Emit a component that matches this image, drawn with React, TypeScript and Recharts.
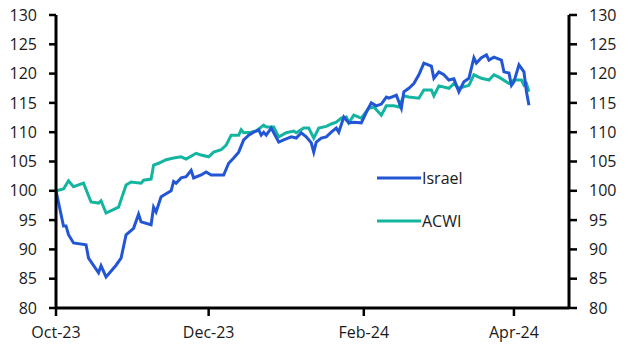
import { LineChart, Line, XAxis, YAxis } from "recharts";

// x values are days since 1 Oct 2023
const tickDays = [0, 61, 123, 183];
const tickLabels = ["Oct-23", "Dec-23", "Feb-24", "Apr-24"];
const yTicks = [80, 85, 90, 95, 100, 105, 110, 115, 120, 125, 130];

const israelDays = [
  0, 3, 4, 5, 7, 12, 13, 17, 18, 20, 24, 26, 28, 31, 33, 34, 38, 39, 40, 42,
  46, 47, 48, 50, 52, 54, 55, 58, 60, 62, 67, 69, 71, 73, 75, 77, 79, 81, 82, 83,
  84, 86, 89, 91, 94, 96, 98, 100, 102, 103, 104, 106, 108, 110, 112, 113, 115, 117, 119, 122,
  124, 126, 128, 130, 132, 133, 136, 138, 139, 141, 143, 145, 147, 150, 151, 153, 155, 157, 159, 161,
  163, 165, 167, 168, 170, 172, 173, 175, 178, 179, 181, 182, 183, 185, 187, 188, 189,
];
const israelValues = [
  100, 94, 94, 92.5, 91.1, 90.8, 88.5, 86, 87.2, 85.3, 87.3, 88.5, 92.5, 93.6, 96, 94.7, 94.2, 97.2, 96.4, 99,
  100, 101.6, 101.3, 102.2, 102.4, 103.5, 102.2, 102.7, 103.2, 102.7, 102.7, 104.7, 105.6, 106.6, 108.7, 109.5, 110, 110.4, 109.5, 110,
  109.5, 110.7, 108.3, 108.7, 109.2, 109, 109.9, 109.2, 108.2, 106.6, 108.3, 109, 109.2, 110, 110.7, 110, 112.6, 111.6, 111.7, 111.6,
  113.4, 115, 114.5, 114.8, 116, 115.8, 116.3, 114.1, 116.9, 117.5, 118.3, 119.8, 121.8, 121.3, 119.2, 120.3, 119.8, 118.9, 119.1, 116.9,
  118.6, 119.2, 122.7, 121.8, 122.7, 123.2, 122.3, 122.8, 122.3, 120.3, 120.1, 118, 118.6, 121.5, 120.3, 116.9, 114.6,
];

const acwiDays = [
  0, 3, 5, 7, 11, 14, 17, 18, 20, 25, 28, 30, 34, 35, 38, 39, 41, 44, 47, 50,
  52, 56, 58, 61, 63, 66, 68, 70, 73, 74, 75, 78, 80, 83, 84, 87, 89, 92, 95, 96,
  99, 101, 103, 105, 108, 110, 112, 114, 116, 117, 119, 122, 125, 127, 130, 132, 135, 137, 139, 141,
  145, 147, 150, 151, 153, 157, 159, 161, 165, 167, 170, 173, 175, 177, 181, 183, 186, 187, 188, 189,
];
const acwiValues = [
  100, 100.3, 101.7, 100.7, 101.3, 98.1, 97.9, 98.3, 96.2, 97.2, 101, 101.5, 101.3, 101.8, 102, 104.4, 104.7, 105.3, 105.6, 105.8,
  105.4, 106.4, 106.1, 105.8, 106.6, 107, 107.8, 109.5, 109.5, 110.4, 109.9, 110, 110.2, 111.2, 110.9, 110.9, 109.2, 109.9, 110.2, 109.9,
  110.7, 110.7, 109, 110.7, 111, 111.4, 111.7, 112.4, 112.6, 111.6, 112.9, 112.4, 114.1, 114.3, 112.9, 114.5, 114.5, 114.3, 116.2, 116,
  115.8, 117.2, 117.2, 116.2, 117.9, 117.5, 118.3, 117.5, 118, 119.8, 119.2, 118.9, 119.8, 119.4, 118.3, 118.9, 118.9, 118, 118.3, 116.9,
];

const israelData = israelDays.map((d, i) => ({ day: d, value: israelValues[i] }));
const acwiData = acwiDays.map((d, i) => ({ day: d, value: acwiValues[i] }));

const BLUE = "#2356d4";
const GREEN = "#14b5a0";
const FONT = "'Open Sans', 'Noto Sans', sans-serif";
const tickStyle = { fill: "#1a1a1a", fontSize: 16, fontFamily: FONT };

const series = [
  { name: "Israel", color: BLUE },
  { name: "ACWI", color: GREEN },
];

// legend drawn over the plot, like the original
const LegendBox = () => (
  <div
    style={{
      position: "absolute",
      left: 377,
      top: 167,
      fontFamily: FONT,
      fontSize: 16,
      color: "#1a1a1a",
    }}
  >
    {series.map((s) => (
      <div key={s.name} style={{ display: "flex", alignItems: "center", height: 22, marginBottom: 21 }}>
        <svg width={44} height={6} style={{ marginRight: 1 }}>
          <line x1={0} y1={3} x2={44} y2={3} stroke={s.color} strokeWidth={3} />
        </svg>
        <span>{s.name}</span>
      </div>
    ))}
  </div>
);

export default function App() {
  return (
    <div style={{ position: "absolute", left: 0, top: 0, width: 630, height: 355, background: "#fff" }}>
      <LineChart width={630} height={355} margin={{ top: 15, right: 0, bottom: 0, left: 0 }}>
        <XAxis
          dataKey="day"
          type="number"
          domain={[0, 205]}
          ticks={tickDays}
          interval={0}
          tickFormatter={(v: number) => tickLabels[tickDays.indexOf(v)] ?? ""}
          allowDataOverflow
          height={47}
          tick={tickStyle}
          tickSize={8}
          tickMargin={11}
          axisLine={{ stroke: "#000", strokeWidth: 3 }}
          tickLine={{ stroke: "#000", strokeWidth: 2.5 }}
        />
        <YAxis
          yAxisId="left"
          domain={[80, 130]}
          ticks={yTicks}
          interval={0}
          width={56}
          tick={tickStyle}
          tickSize={7}
          tickMargin={12}
          axisLine={{ stroke: "#000", strokeWidth: 3 }}
          tickLine={{ stroke: "#000", strokeWidth: 2.5 }}
        />
        <YAxis
          yAxisId="right"
          orientation="right"
          domain={[80, 130]}
          ticks={yTicks}
          interval={0}
          width={61}
          tick={tickStyle}
          tickSize={8}
          tickMargin={12}
          axisLine={{ stroke: "#000", strokeWidth: 3 }}
          tickLine={{ stroke: "#000", strokeWidth: 2.5 }}
        />
        <Line
          yAxisId="right"
          data={acwiData}
          dataKey="value"
          name="ACWI"
          stroke={GREEN}
          strokeWidth={3}
          dot={false}
          isAnimationActive={false}
        />
        <Line
          yAxisId="left"
          data={israelData}
          dataKey="value"
          name="Israel"
          stroke={BLUE}
          strokeWidth={3}
          dot={false}
          isAnimationActive={false}
        />
      </LineChart>
      <LegendBox />
    </div>
  );
}
